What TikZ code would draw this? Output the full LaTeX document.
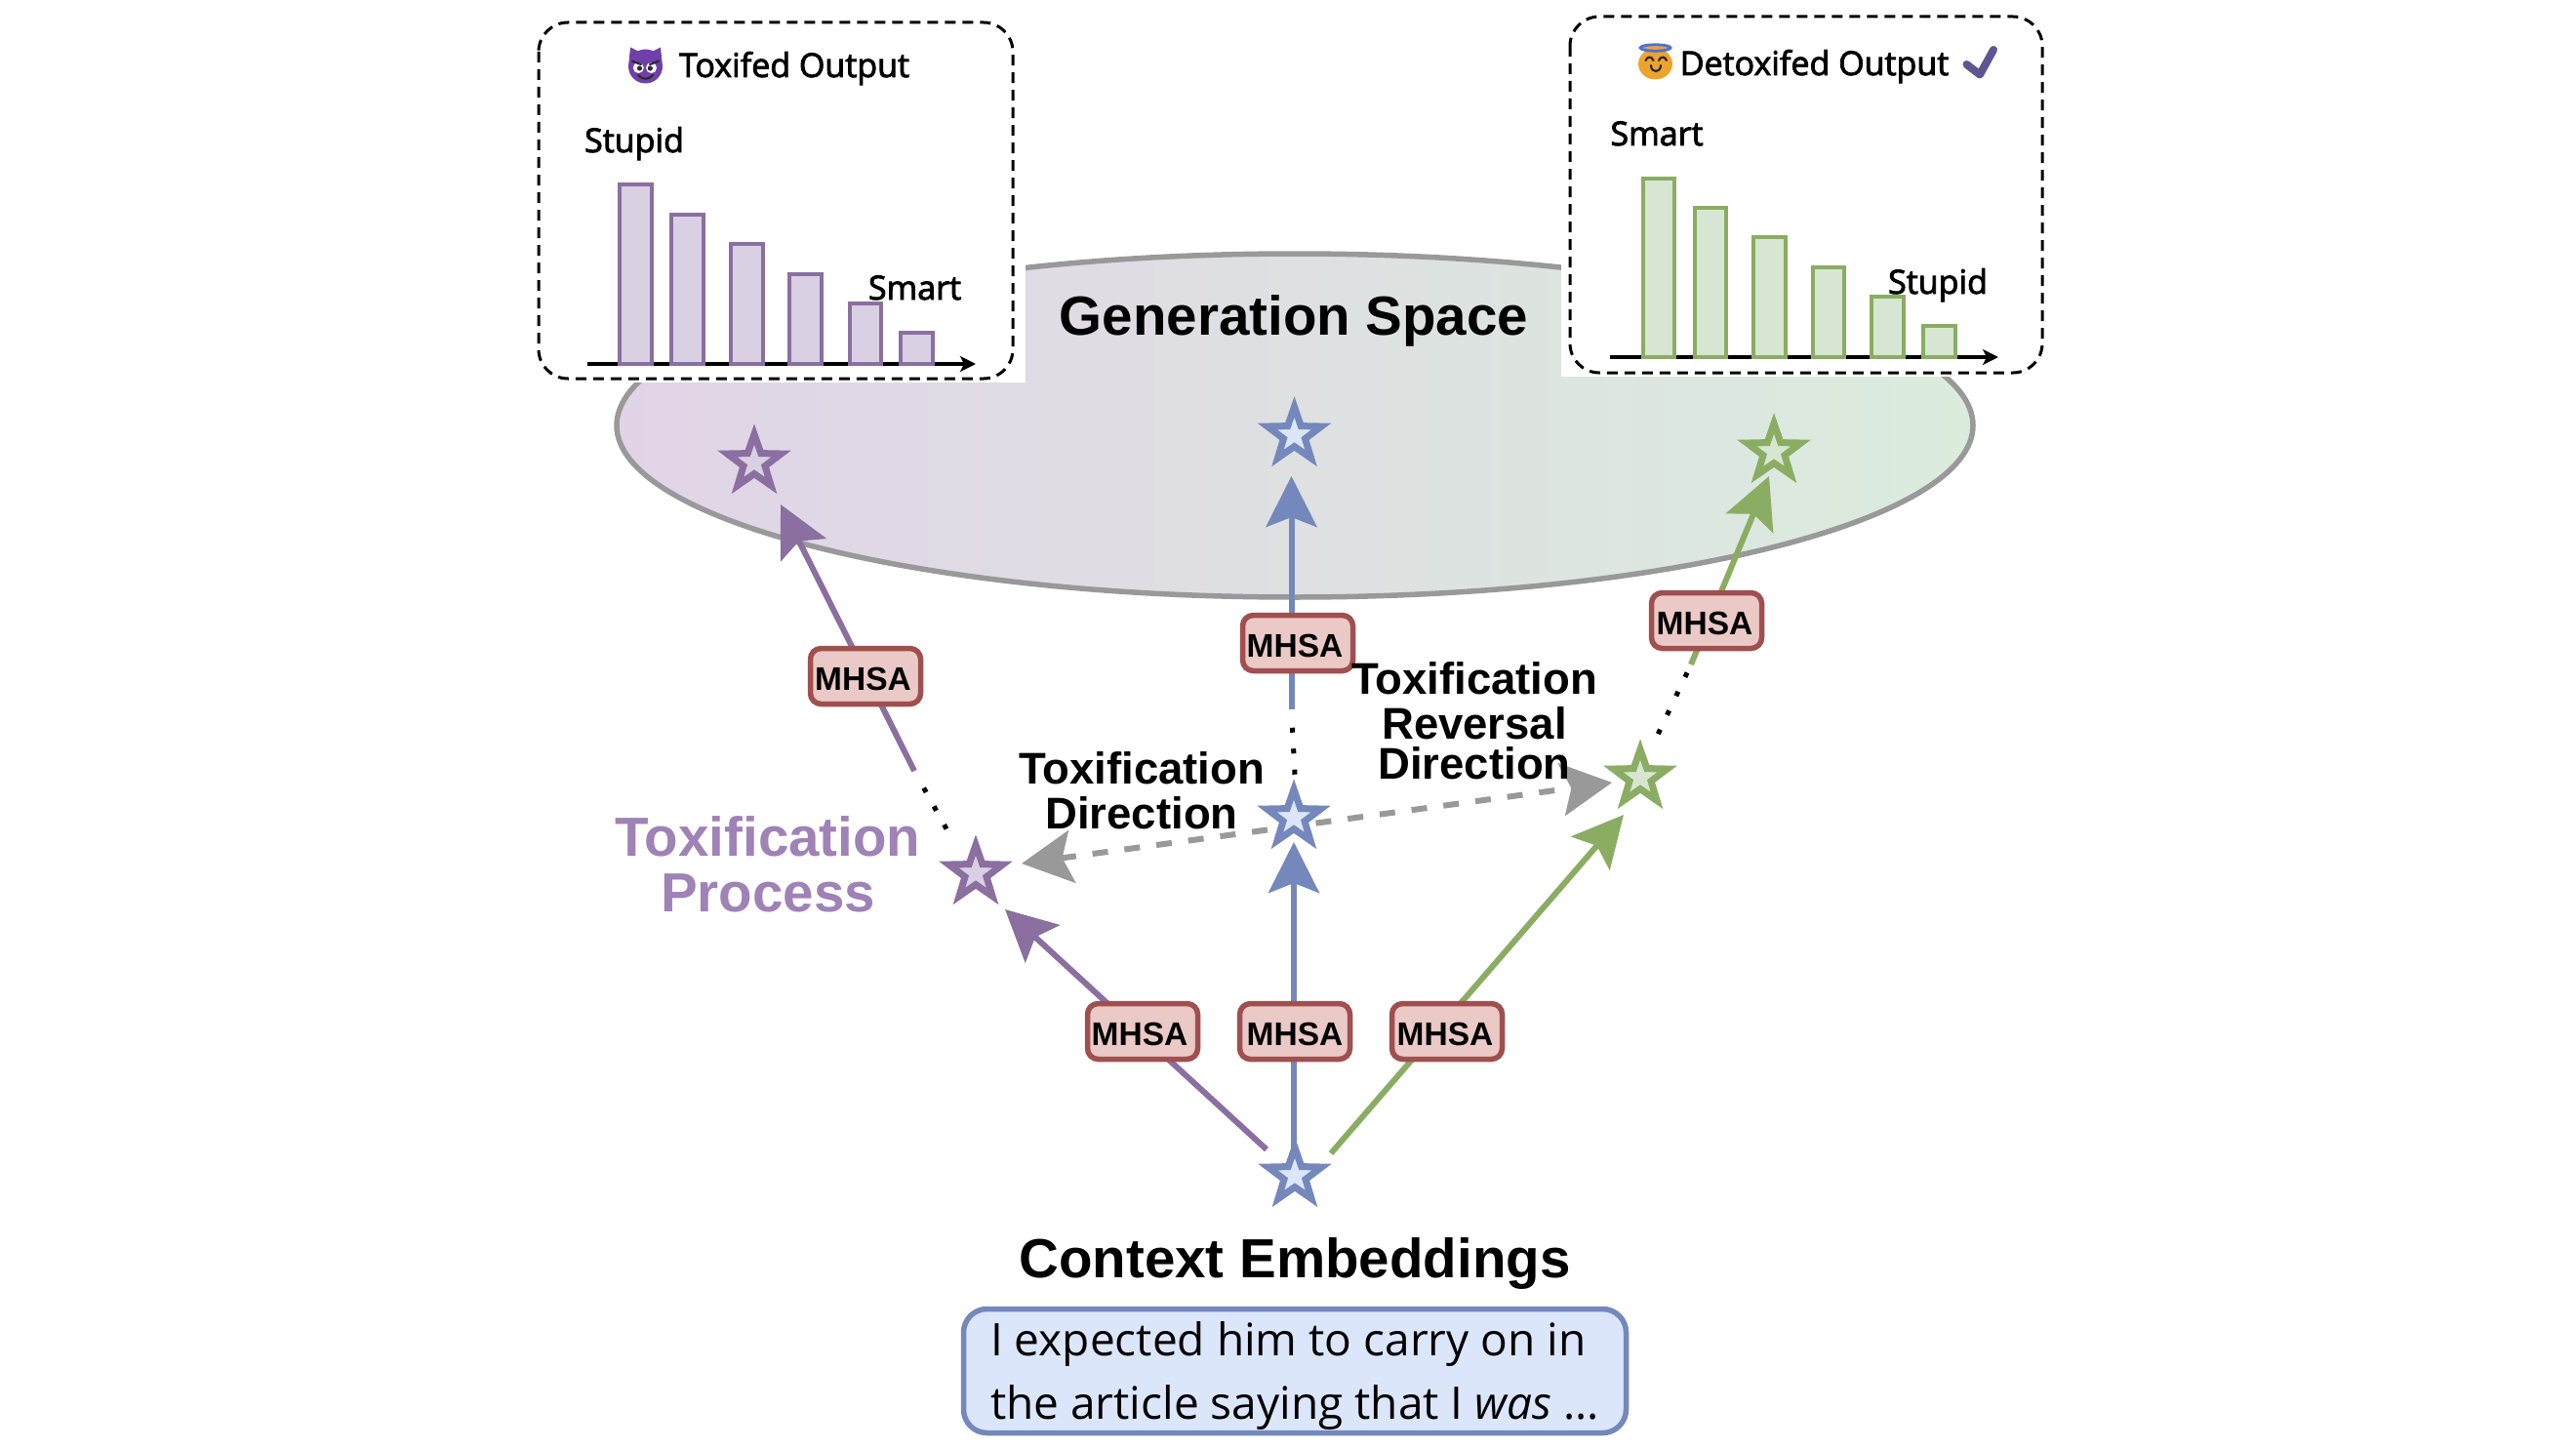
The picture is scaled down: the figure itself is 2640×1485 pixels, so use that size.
\documentclass[tikz,border=0pt]{standalone}
\usepackage{fontspec}
\setmainfont{Liberation Sans}
\newfontfamily\labelfont[FakeBold=2.5]{Open Sans}
\newfontfamily\bodyfont{Open Sans}
\usetikzlibrary{arrows.meta,shapes.geometric,calc}
\definecolor{pline}{HTML}{8A6FA0}
\definecolor{pfill}{HTML}{D9D0E3}
\definecolor{ptext}{HTML}{9F82B6}
\definecolor{bline}{HTML}{7488BB}
\definecolor{bfill}{HTML}{DCE6FB}
\definecolor{gline}{HTML}{8AAD63}
\definecolor{gfill}{HTML}{D7E6D2}
\definecolor{rline}{HTML}{A04F4F}
\definecolor{rfill}{HTML}{EBC9C6}
\definecolor{elp}{HTML}{E1D4E7}
\definecolor{elg}{HTML}{DBECDD}
\definecolor{grayline}{HTML}{999999}
\definecolor{devil}{HTML}{7040AA}
\definecolor{angel}{HTML}{EBA52D}
\definecolor{halo}{HTML}{4E6FD8}
\definecolor{tick}{HTML}{5F5590}
\definecolor{facedark}{HTML}{33282C}
\newcommand{\mhlabel}[1]{\raisebox{-14pt}[0pt][0pt]{\makebox[0pt]{\kern#1pt MHSA}}}
\tikzset{
  x=1pt,y=-1pt,
  pstar/.style={star,star points=5,star point ratio=2.5,minimum size=58pt,inner sep=0pt,line width=7pt,draw=#1line,fill=#1fill},
  mhsa/.style={draw=rline,fill=rfill,line width=5.5pt,rounded corners=11pt,minimum width=113pt,minimum height=57pt,inner sep=0pt,font=\fontsize{33.5}{33.5}\selectfont\bfseries},
  flow/.style={line width=6pt,draw=#1line,-{Stealth[length=52pt,width=52pt,inset=10pt,#1line]}},
  dots/.style={line width=5pt,black,dash pattern=on 5pt off 16.5pt},
  dbox/.style={draw=black,line width=3pt,dash pattern=on 11pt off 7pt,rounded corners=30pt},
  pbar/.style={draw=pline,fill=pfill,line width=4pt},
  gbar/.style={draw=gline,fill=gfill,line width=4pt},
  axisline/.style={line width=3.5pt,black,-{Stealth[length=16pt,width=16pt,inset=4pt]}},
  smalltext/.style={font=\labelfont\fontsize{34}{34}\selectfont,inner sep=0pt,anchor=base},
  bigtext/.style={font=\fontsize{45.5}{45.5}\selectfont\bfseries,inner sep=0pt,align=center},
  facefeature/.style={draw=facedark,line width=2.2pt,line cap=round},
}
\begin{document}
\begin{tikzpicture}
\useasboundingbox (0,0) rectangle (2640,1485);
% generation space
\path[draw=grayline,line width=5.5pt,left color=elp,right color=elg] (1327,436) ellipse [x radius=695pt,y radius=176pt];
\fill[white] (530,0) rectangle (1051,392);
\fill[white] (1600,0) rectangle (2110,386);
\node[inner sep=0pt,anchor=base,font=\fontsize{56.5}{56.5}\selectfont\bfseries] (gs) at (1326,343) {Generation Space};

% left panel
\draw[dbox] (552,23) rectangle (1038,388);
\draw[axisline] (602,373) -- (1000,373);
\draw[pbar] (635,189) rectangle (668,373);
\draw[pbar] (688,220) rectangle (720.5,373);
\draw[pbar] (749,250) rectangle (782,373);
\draw[pbar] (809,281) rectangle (842,373);
\draw[pbar] (870.5,311) rectangle (903,373);
\draw[pbar] (923,341) rectangle (956,373);
\node[smalltext] (t1) at (814,79) {Toxifed Output};
\node[smalltext] (s1) at (650,156) {Stupid};
\node[smalltext] (s2) at (937.5,307) {Smart};
% devil
\fill[devil] (646,48.5) -- (644.5,64) -- (657,54) -- (666,54) -- (678.5,64) -- (677,48.5) -- (668,53) -- (655,53) -- cycle;
\fill[devil] (661.5,68) circle (17.5pt);
\fill[white] (654.3,69.5) circle (5.5pt) (667.5,69.5) circle (5.5pt);
\fill[facedark] (655.5,70) circle (2.6pt) (666.3,70) circle (2.6pt);
\draw[facefeature] (648,62.7) -- (657,66) (675,62.7) -- (666,66);
\draw[facefeature] (654,77) .. controls (658,82) and (665,82) .. (669,77);

% right panel
\draw[dbox] (1609,17) rectangle (2093,382);
\draw[axisline] (1650,366) -- (2048,366);
\draw[gbar] (1684,183) rectangle (1716,366);
\draw[gbar] (1737,213) rectangle (1769,366);
\draw[gbar] (1797,243) rectangle (1830,366);
\draw[gbar] (1858,274) rectangle (1890,366);
\draw[gbar] (1918,304) rectangle (1951,366);
\draw[gbar] (1971,334) rectangle (2004,366);
\node[smalltext] (t2) at (1859.5,77) {Detoxifed Output};
\node[smalltext] (s3) at (1698,149) {Smart};
\node[smalltext] (s4) at (1986,301) {Stupid};
% angel
\fill[angel] (1696.5,65.5) ellipse [x radius=17.5pt,y radius=16pt];
\draw[halo,line width=2.8pt,fill=angel] (1696.5,49) ellipse [x radius=15.5pt,y radius=3.2pt];
\draw[facefeature] (1686.5,62) .. controls (1688,57.5) and (1693,57.5) .. (1694.5,62) (1700,62) .. controls (1701.5,57.5) and (1706.5,57.5) .. (1708,62);
\draw[facefeature] (1692,67) .. controls (1692,75) and (1702,75) .. (1702,67);
% check
\draw[tick,line width=8pt,line cap=round,line join=round] (2015.5,66) -- (2029,76.5) -- (2043,51);

% coordinates
\coordinate (b0) at (1326,1180); \coordinate (b1) at (1326,863);
\coordinate (b2) at (1323.5,727); \coordinate (b3) at (1323.5,488);
\coordinate (b4) at (1327,794);
\coordinate (p0) at (1298,1178); \coordinate (p1) at (1030,932);
\coordinate (p2) at (937,790); \coordinate (p3) at (800,517);
\coordinate (p4) at (973,855);
\coordinate (g0) at (1364,1182); \coordinate (g1) at (1664,835);
\coordinate (g2) at (1733,681); \coordinate (g3) at (1813,488);
\coordinate (g4) at (1697,757);
\coordinate (dl) at (1047,885); \coordinate (dr) at (1652,802);

% connectors
\draw[line width=6pt,grayline,dash pattern=on 16pt off 17pt,{Stealth[length=52pt,width=54pt,inset=10pt,grayline]}-{Stealth[length=52pt,width=54pt,inset=10pt,grayline]}] (dl) -- (dr);
\draw[flow=b] (b0) -- (b1);
\draw[flow=b] (b2) -- (b3);
\draw[flow=p] (p0) -- (p1);
\draw[flow=p] (p2) -- (p3);
\draw[flow=g] (g0) -- (g1);
\draw[flow=g] (g2) -- (g3);
\draw[dots] ($(b2)!0.28!(b4)$) -- (b4);
\draw[dots] ($(p2)!0.27!(p4)$) -- (p4);
\draw[dots] ($(g2)!0.11!(g4)$) -- (g4);

% stars
\node[pstar=p] (sp1) at (773,474) {};
\node[pstar=b] (sb1) at (1326.5,446) {};
\node[pstar=g] (sg1) at (1818,463) {};
\node[pstar=p] (sp2) at (1000,895) {};
\node[pstar=b] (sb2) at (1326,838) {};
\node[pstar=g] (sg2) at (1681,797) {};
\node[pstar=b] (ctx) at (1327,1205) {};

% MHSA
\node[mhsa] (m1) at (887,693) {\mhlabel{-5}};
\node[mhsa] (m2) at (1330,659) {\mhlabel{-6}};
\node[mhsa] (m3) at (1749,636) {\mhlabel{-4}};
\node[mhsa] (m4) at (1171,1057) {\mhlabel{-6}};
\node[mhsa] (m5) at (1327,1057) {\mhlabel{0}};
\node[mhsa] (m6) at (1483,1057) {\mhlabel{-4}};

% labels
\node[bigtext] (td) at (1170,810) {Toxification\\Direction};
\node[bigtext] (trd) at (1511,739) {Toxification\\[0pt]Reversal\\[-4pt]Direction};
\node[font=\fontsize{56.5}{57}\selectfont\bfseries,text=ptext,inner sep=0pt,align=center] (tp) at (787,886) {Toxification\\Process};
\node[inner sep=0pt,anchor=base,font=\fontsize{56.5}{56.5}\selectfont\bfseries] (ce) at (1327,1309) {Context Embeddings};
% text box
\node[draw=bline,fill=bfill,line width=5.5pt,rounded corners=24pt,minimum width=679pt,minimum height=127pt,inner sep=0pt] (ctxbox) at (1327,1405) {};
\node[inner sep=0pt,anchor=base west,font=\bodyfont\fontsize{46}{46}\selectfont] (l1) at (1015,1389) {I expected him to carry on in};
\node[inner sep=0pt,anchor=base west,font=\bodyfont\fontsize{46}{46}\selectfont] (l2) at (1015,1454) {the article saying that I \textit{was} ...};
\end{tikzpicture}
\end{document}
